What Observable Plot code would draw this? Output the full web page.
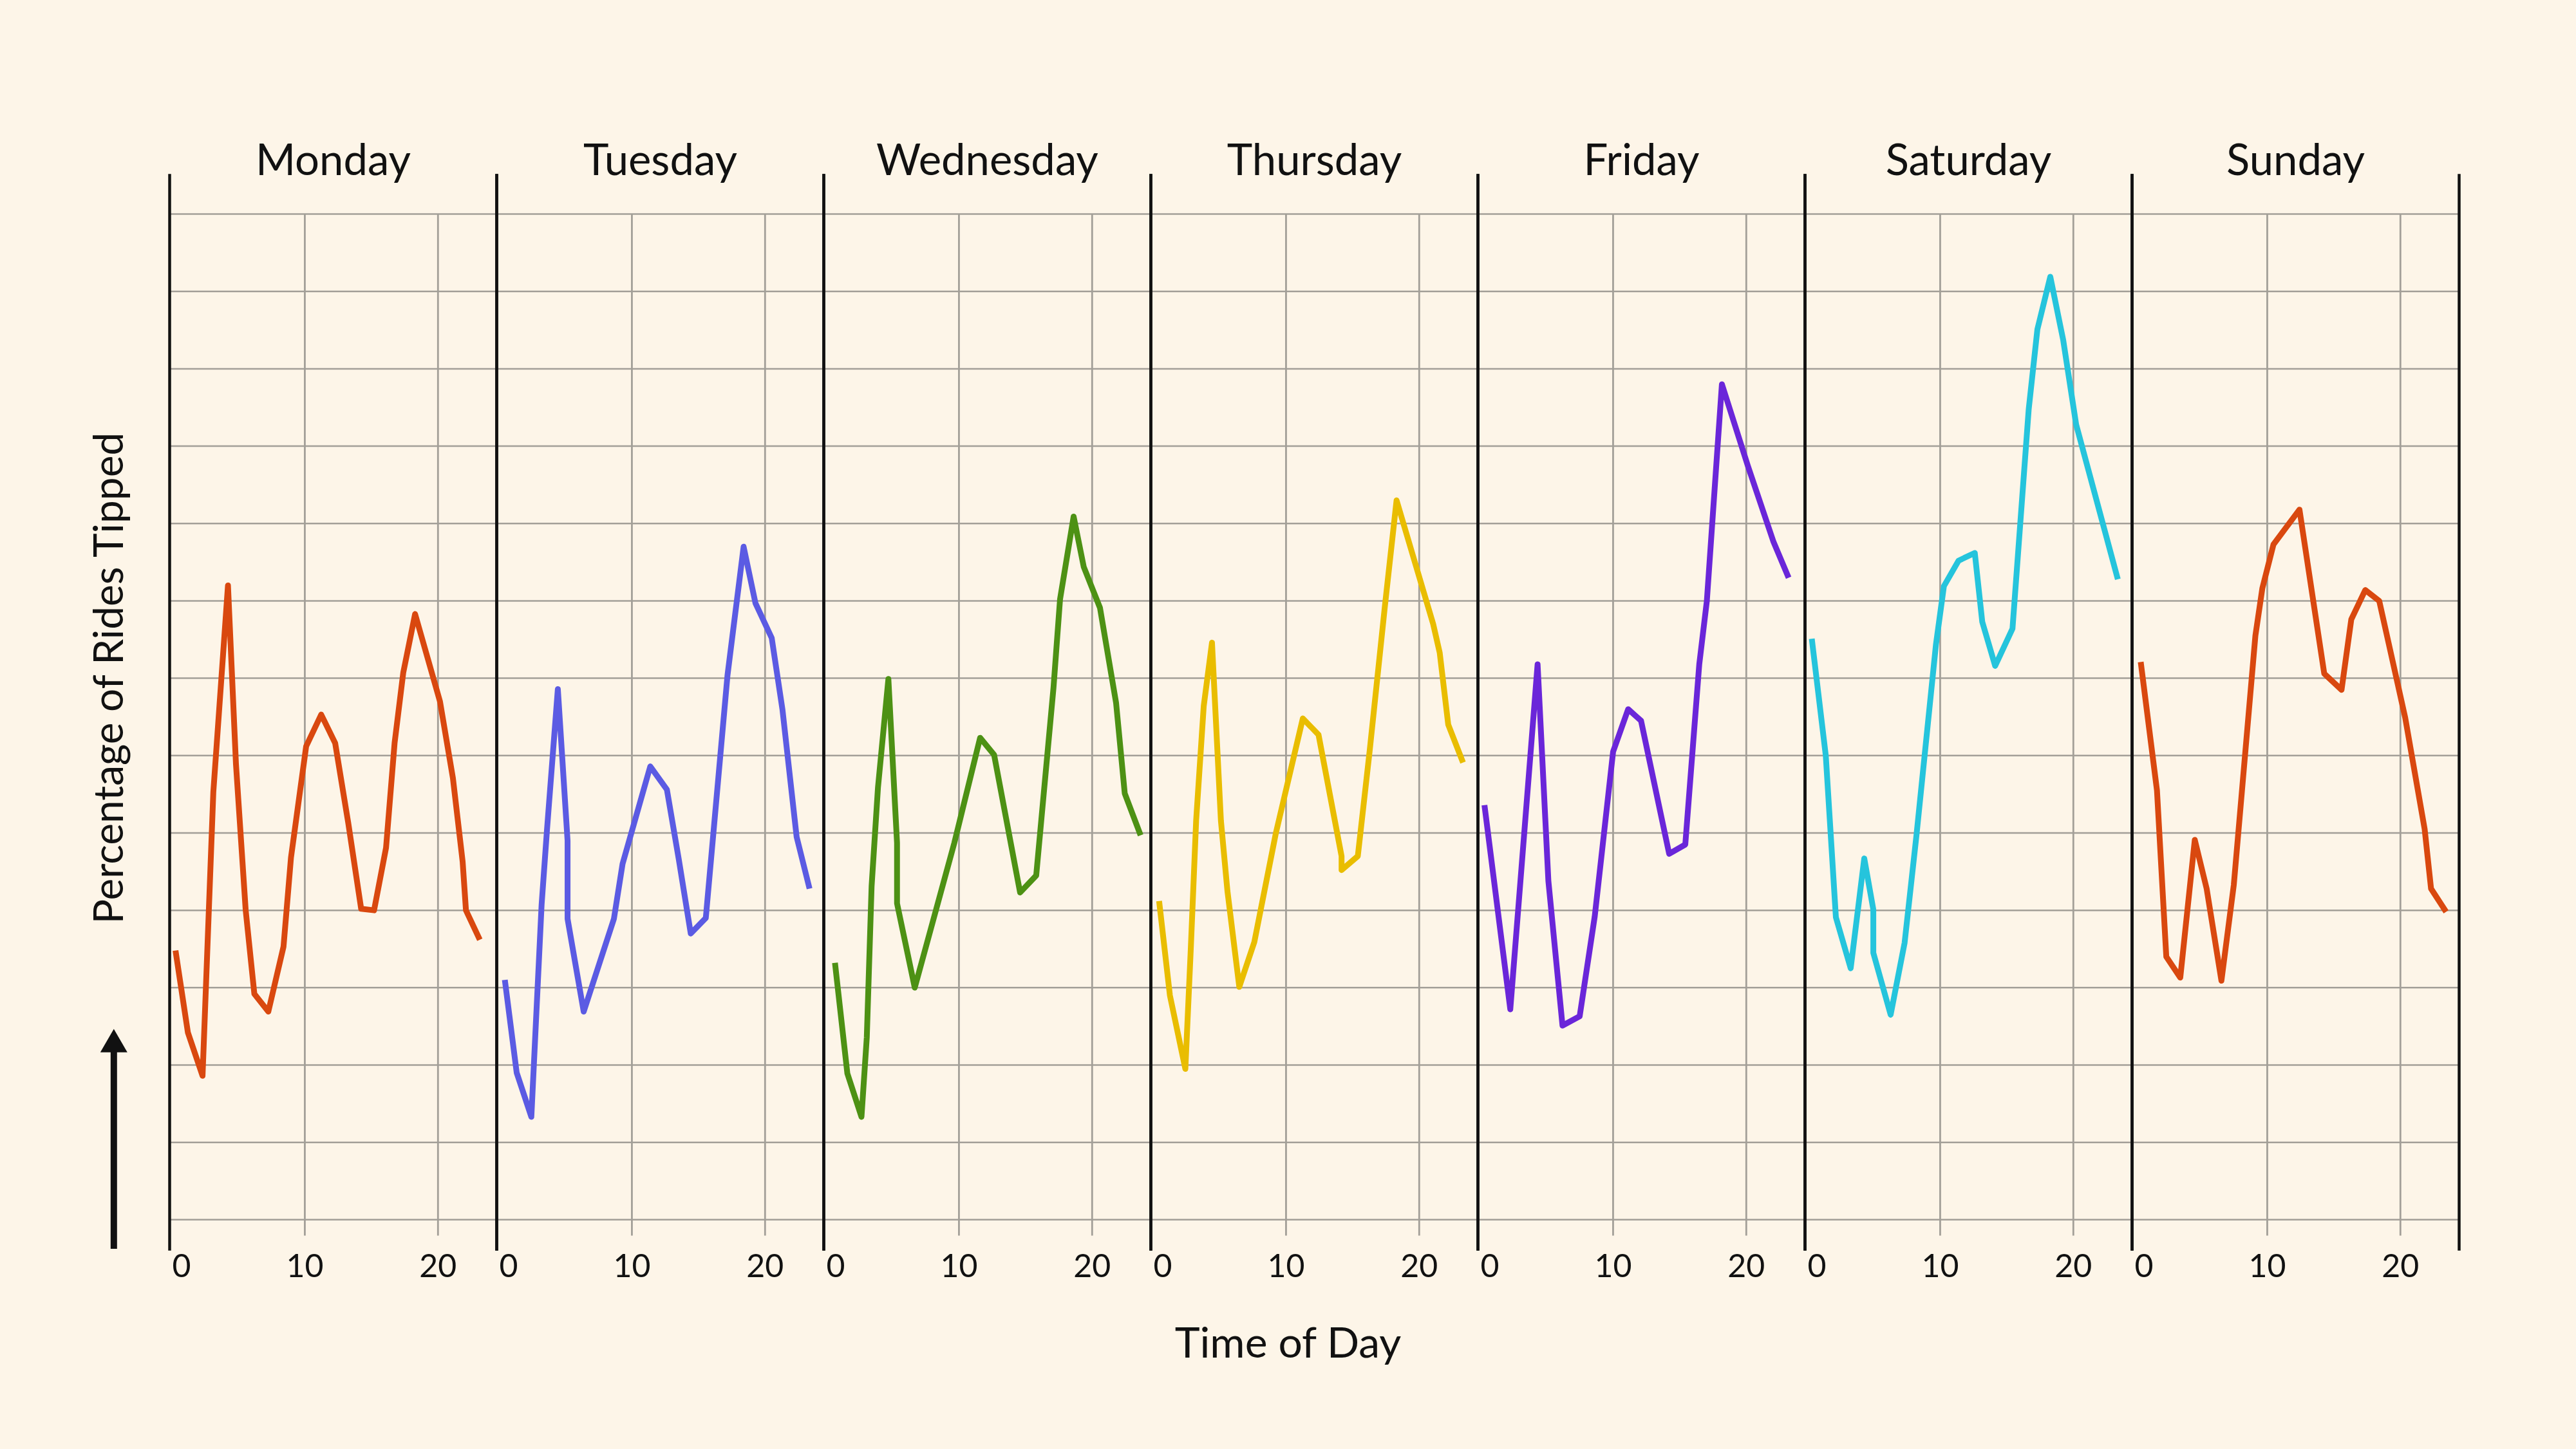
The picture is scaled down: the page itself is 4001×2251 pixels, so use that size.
<!DOCTYPE html>
<html>
<head>
<meta charset="utf-8">
<script src="https://cdn.jsdelivr.net/npm/d3@7"></script>
<script src="https://cdn.jsdelivr.net/npm/@observablehq/plot@0.6"></script>
<style>
  html, body { margin: 0; padding: 0; background: #fdf5e8; }
  #chart { width: 4001px; height: 2251px; }
</style>
</head>
<body>
<div id="chart"></div>
<script>
// ---------- data (y in grid units, one unit per gridline) ----------
const days = ["Monday", "Tuesday", "Wednesday", "Thursday", "Friday", "Saturday", "Sunday"];
const dayColors = ["#d9480f", "#5b5be3", "#4d9114", "#e9bd00", "#6a26d9", "#25c4dc", "#d9480f"];

const mondayHours  = [0.29,1.22,2.32,3.13,4.23,4.83,5.56,6.21,7.26,8.40,8.96,10.10,11.23,12.28,13.26,14.23,15.20,16.10,16.74,17.39,18.28,20.15,21.12,21.85,22.10,23.14];
const mondayValues = [3.48,2.42,1.86,5.53,8.20,5.89,4.00,2.92,2.69,3.53,4.68,6.12,6.53,6.16,5.13,4.02,4.00,4.81,6.16,7.07,7.83,6.70,5.71,4.63,4.00,3.62];

const tuesdayHours  = [0.46,1.35,2.45,3.22,3.62,4.44,5.17,5.17,6.38,8.65,9.30,11.38,12.63,13.52,14.42,15.55,17.18,18.39,19.28,20.50,21.31,22.37,23.34];
const tuesdayValues = [3.10,1.90,1.33,4.07,5.03,6.86,4.90,3.89,2.69,3.89,4.60,5.86,5.56,4.66,3.70,3.90,7.04,8.70,7.97,7.52,6.59,4.95,4.28];

const wednesdayHours  = [0.69,1.62,2.68,3.08,3.44,3.92,4.70,5.35,5.35,6.68,9.65,11.59,12.64,14.59,15.80,17.10,17.59,18.61,19.37,20.59,21.80,22.45,23.64];
const wednesdayValues = [3.32,1.89,1.33,2.36,4.31,5.59,6.99,4.87,4.09,3.00,4.87,6.23,6.01,4.23,4.45,6.88,8.02,9.09,8.44,7.91,6.68,5.51,4.97];

const thursdayHours  = [0.47,1.28,2.44,2.85,3.25,3.82,4.44,5.11,5.60,6.49,7.62,9.24,11.26,12.44,14.17,14.17,15.39,16.28,17.41,18.30,21.05,21.54,22.18,23.29];
const thursdayValues = [4.12,2.90,1.95,3.51,5.16,6.64,7.46,5.16,4.25,3.01,3.59,5.00,6.48,6.27,4.70,4.52,4.70,6.06,7.91,9.30,7.70,7.33,6.40,5.91];

const fridayHours  = [0.34,2.28,4.33,5.14,6.20,7.49,8.62,10.00,11.13,12.10,14.21,15.42,16.47,17.04,18.17,20.11,22.05,23.18];
const fridayValues = [5.36,2.72,7.18,4.38,2.51,2.63,3.92,6.05,6.60,6.45,4.73,4.85,7.18,8.00,10.80,9.75,8.76,8.30];

const saturdayHours  = [0.36,1.41,2.17,3.28,4.30,4.98,4.98,6.28,7.33,8.22,9.68,10.28,11.38,12.60,13.16,14.13,15.43,16.65,17.30,18.27,19.24,20.21,23.34];
const saturdayValues = [7.51,6.00,3.91,3.25,4.67,4.01,3.45,2.65,3.58,4.97,7.43,8.19,8.52,8.62,7.73,7.16,7.64,10.48,11.51,12.19,11.37,10.28,8.28];

const sundayHours  = [0.50,1.72,2.42,3.47,4.56,5.45,6.56,7.49,9.11,9.63,10.47,12.42,14.28,15.58,16.31,17.36,18.41,20.36,21.82,22.30,23.43];
const sundayValues = [7.21,5.55,3.40,3.13,4.91,4.28,3.09,4.33,7.55,8.16,8.73,9.18,7.06,6.85,7.76,8.14,8.00,6.49,5.05,4.28,3.98];

const xTickValues = [0, 10, 20];
const xGridValues = [10, 20];
const yGridValues = [0, 1, 2, 3, 4, 5, 6, 7, 8, 9, 10, 11, 12, 13];

const xTitle = "Time of Day";
const yTitle = "Percentage of Rides Tipped";

// ---------- build table ----------
const seriesByDay = {
  Monday: [mondayHours, mondayValues],
  Tuesday: [tuesdayHours, tuesdayValues],
  Wednesday: [wednesdayHours, wednesdayValues],
  Thursday: [thursdayHours, thursdayValues],
  Friday: [fridayHours, fridayValues],
  Saturday: [saturdayHours, saturdayValues],
  Sunday: [sundayHours, sundayValues]
};
const rows = days.flatMap(day => {
  const [hs, vs] = seriesByDay[day];
  return hs.map((h, i) => ({day, hour: h, value: vs[i]}));
});
const tickRows = days.flatMap(day => xTickValues.map(t => ({day, t})));

// ---------- style ----------
const ink = "#111111";
const gridColor = "#a39f98";
const xDomain = [-0.15, 24.41];
const yDomain = [-0.38, 13.5];
const gridBelow = -0.21;

const chart = Plot.plot({
  width: 4001,
  height: 2251,
  marginLeft: 262.7,
  marginRight: 181,
  marginTop: 272,
  marginBottom: 311,
  style: {background: "#fdf5e8", fontFamily: "Lato, 'Open Sans', sans-serif", color: ink},
  fx: {domain: days, padding: 0, axis: null},
  x: {domain: xDomain, axis: null},
  y: {domain: yDomain, axis: null},
  color: {domain: days, range: dayColors},
  marks: [
    Plot.ruleY(yGridValues, {stroke: gridColor, strokeWidth: 2.5}),
    Plot.ruleX(xGridValues, {y1: yGridValues[yGridValues.length - 1], y2: gridBelow, stroke: gridColor, strokeWidth: 2.8}),
    Plot.frame({anchor: "left", stroke: ink, strokeWidth: 4.5}),
    Plot.frame({anchor: "right", stroke: ink, strokeWidth: 4.5}),
    Plot.line(rows, {x: "hour", y: "value", fx: "day", z: "day", stroke: "day", strokeWidth: 9, strokeLinejoin: "round", strokeLinecap: "butt"}),
    // facet titles
    Plot.text(days, {fx: d => d, text: d => d, frameAnchor: "top", lineAnchor: "bottom", dy: -1, fontSize: 67, fill: ink}),
    // x tick labels
    Plot.text(tickRows.filter(d => d.t === 0), {fx: "day", x: "t", text: d => String(d.t), frameAnchor: "bottom", lineAnchor: "top", textAnchor: "start", dy: 8, dx: 1, fontSize: 50, fill: ink}),
    Plot.text(tickRows.filter(d => d.t !== 0), {fx: "day", x: "t", text: d => String(d.t), frameAnchor: "bottom", lineAnchor: "top", textAnchor: "middle", dy: 8, fontSize: 50, fill: ink}),
    // x axis title
    Plot.text([days[3]], {fx: d => d, text: () => xTitle, frameAnchor: "bottom", lineAnchor: "bottom", textAnchor: "middle", dx: -41, dy: 168, fontSize: 66, fill: ink}),
    // y axis title
    Plot.text([days[0]], {fx: d => d, text: () => yTitle, frameAnchor: "left", textAnchor: "middle", rotate: -90, lineAnchor: "bottom", dx: -72.7, dy: -53, fontSize: 64, fill: ink}),
    // upward arrow
    Plot.ruleX([days[0]], {fx: d => d, x: () => xDomain[0], dx: -86.7, y1: yDomain[0], y2: 2.2, stroke: ink, strokeWidth: 10}),
    Plot.dot([days[0]], {fx: d => d, x: () => xDomain[0], dx: -86.7, y: () => 2.265, symbol: "triangle", r: 15.6, fill: ink, stroke: null})
  ]
});
document.getElementById("chart").appendChild(chart);
</script>
</body>
</html>
